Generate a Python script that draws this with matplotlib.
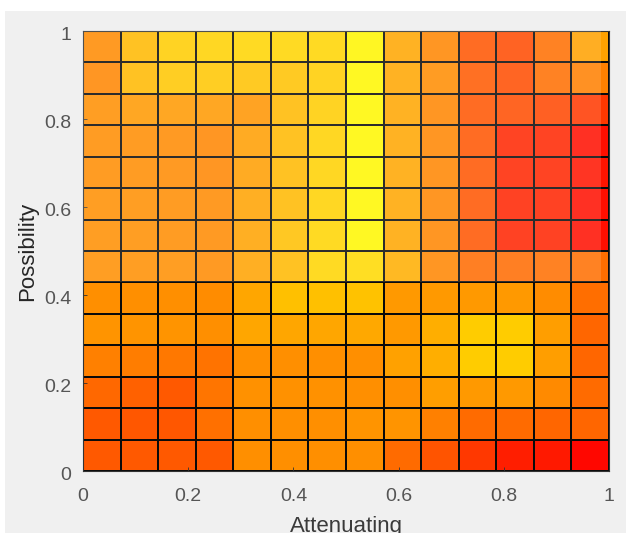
import numpy as np
import matplotlib
matplotlib.use("Agg")
import matplotlib.pyplot as plt
from matplotlib.patches import Rectangle
from matplotlib.transforms import ScaledTranslation

plt.rcParams['font.family'] = ['Liberation Sans', 'DejaVu Sans']

x_label = "Attenuating"
y_label = "Possibility"
x_ticks = [0, 0.2, 0.4, 0.6, 0.8, 1]
x_tick_labels = ["0", "0.2", "0.4", "0.6", "0.8", "1"]
y_ticks = [0, 0.2, 0.4, 0.6, 0.8, 1]
y_tick_labels = ["0", "0.2", "0.4", "0.6", "0.8", "1"]

# rows listed top to bottom, values on the red-yellow colour scale
surface = np.array([
    [.54, .72, .80, .82, .83, .83, .83, .96, .65, .52, .33, .29, .43, .63],
    [.52, .72, .78, .78, .76, .76, .80, .97, .65, .55, .35, .30, .43, .50],
    [.56, .60, .60, .60, .58, .72, .80, .97, .65, .52, .33, .30, .28, .22],
    [.55, .55, .54, .52, .62, .72, .82, .97, .65, .52, .33, .15, .15, .06],
    [.55, .55, .54, .52, .62, .72, .82, .97, .65, .52, .33, .15, .15, .08],
    [.56, .56, .55, .54, .64, .72, .82, .97, .65, .52, .33, .14, .14, .06],
    [.56, .56, .55, .54, .64, .75, .83, .97, .65, .52, .33, .14, .14, .06],
    [.56, .56, .56, .54, .64, .72, .83, .85, .68, .52, .42, .42, .43, .43],
    [.56, .56, .56, .55, .65, .75, .75, .76, .60, .60, .60, .60, .55, .43],
    [.58, .58, .58, .56, .65, .65, .65, .66, .60, .68, .80, .80, .62, .40],
    [.50, .49, .47, .45, .56, .56, .56, .56, .63, .68, .80, .80, .62, .40],
    [.41, .38, .35, .46, .57, .57, .57, .56, .56, .62, .60, .60, .54, .42],
    [.35, .34, .34, .44, .56, .56, .56, .58, .58, .50, .42, .42, .40, .40],
    [.35, .35, .35, .35, .56, .56, .56, .56, .42, .33, .22, .12, .10, .03],
])

W, H = 626, 533
fig = plt.figure(figsize=(W / 100, H / 100), dpi=100, facecolor='#f0f0f0')
# white surround of the pasted figure
fig.add_artist(Rectangle((0, (H - 11) / H), 1, 11 / H, transform=fig.transFigure, fc='white', ec='none'))
fig.add_artist(Rectangle((0, 0), 5 / W, 1, transform=fig.transFigure, fc='white', ec='none'))

ax = fig.add_axes([83 / W, (H - 471) / H, (609 - 83) / W, (471 - 31) / H])
xe = np.linspace(0, 1, surface.shape[1] + 1)
ye = np.linspace(0, 1, surface.shape[0] + 1)
ax.pcolormesh(xe, ye, surface[::-1], cmap='autumn', vmin=0, vmax=1,
              edgecolors='#0a0a0a', linewidth=1.1)
# pale wash over the upper part of the scanned plot
ax.add_patch(Rectangle((0, 6 / 14), 0.985, 8 / 14, transform=ax.transAxes,
                       fc='white', ec='none', alpha=0.14, zorder=3))
ax.set_xlim(0, 1)
ax.set_ylim(0, 1)
ax.set_xticks(x_ticks, x_tick_labels)
ax.set_yticks(y_ticks, y_tick_labels)
ax.tick_params(direction='in', length=3, width=0.6, color='#333333',
               labelcolor='#555555', labelsize=14)
ax.tick_params(axis='x', pad=12)
ax.tick_params(axis='y', pad=8.5)
shift = ScaledTranslation(0, -2 / 100, fig.dpi_scale_trans)
for t in ax.get_yticklabels():
    t.set_transform(t.get_transform() + shift)
for s in ax.spines.values():
    s.set_color('#333333')
    s.set_linewidth(0.8)
ax.set_xlabel(x_label, fontsize=16, color='#3a3a3a', labelpad=8.5)
ax.set_ylabel(y_label, fontsize=16, color='#262626', labelpad=4.5)
fig.savefig('out.png', dpi=100, facecolor=fig.get_facecolor())
